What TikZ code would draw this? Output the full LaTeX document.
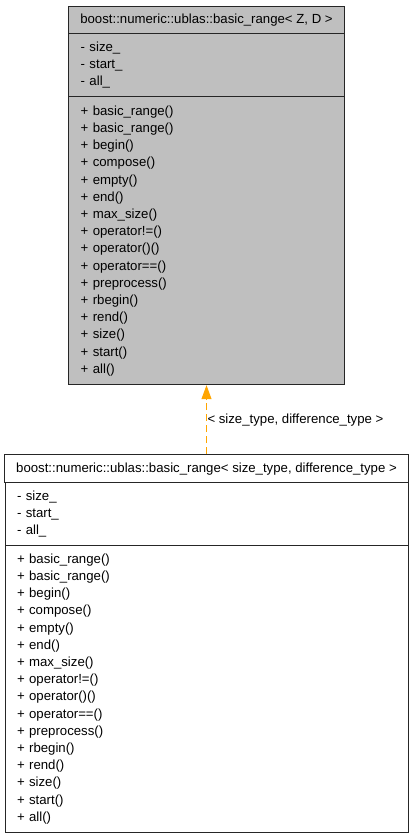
\documentclass[tikz,border=0pt]{standalone}
\usepackage{fontspec}
\setmainfont{Liberation Sans}
\usetikzlibrary{arrows.meta}
\definecolor{edgeorange}{HTML}{FFA500}
\tikzstyle{compart}=[draw=black!85, line width=1pt, inner xsep=12pt, inner ysep=0pt, font=\fontsize{13.2}{17.2}\selectfont]
\tikzstyle{compartgray}=[compart, fill=gray!50]
\tikzstyle{titlepart}=[align=center]
\tikzstyle{listpart}=[align=left]
\tikzstyle{inherit}=[draw=edgeorange, line width=1pt, dash pattern=on 7pt off 4pt, -{Triangle[length=14pt,width=10pt,fill=edgeorange]}]

\begin{document}
\begin{tikzpicture}[x=1pt, y=1pt]
	\useasboundingbox (0, 0) rectangle (413, -840);
	\begin{scope}
		% template class
		\node (topT) at (206.5, -20.1) [compartgray, titlepart, minimum width=275.6pt, minimum height=26.8pt] {boost::numeric::ublas::basic\_range< Z, D >};
		\node (topA) at (206.5, -65.25) [compartgray, listpart, text width=251.6pt, minimum height=63.5pt] {- size\_\\- start\_\\- all\_};
		\node (topM) at (206.5, -240.85) [compartgray, listpart, text width=251.6pt, minimum height=287.7pt] {+ basic\_range()\\+ basic\_range()\\+ begin()\\+ compose()\\+ empty()\\+ end()\\+ max\_size()\\+ operator!=()\\+ operator()()\\+ operator==()\\+ preprocess()\\+ rbegin()\\+ rend()\\+ size()\\+ start()\\+ all()};

		% instantiated class
		\node (botT) at (206.5, -468.7) [compart, titlepart, minimum width=403pt, minimum height=28pt] {boost::numeric::ublas::basic\_range< size\_type, difference\_type >};
		\node (botA) at (206.5, -513.85) [compart, listpart, text width=379pt, minimum height=62.3pt] {- size\_\\- start\_\\- all\_};
		\node (botM) at (206.5, -688.85) [compart, listpart, text width=379pt, minimum height=287.7pt] {+ basic\_range()\\+ basic\_range()\\+ begin()\\+ compose()\\+ empty()\\+ end()\\+ max\_size()\\+ operator!=()\\+ operator()()\\+ operator==()\\+ preprocess()\\+ rbegin()\\+ rend()\\+ size()\\+ start()\\+ all()};
	\end{scope}
	\begin{scope}
		\draw [inherit] (botT.north) -- node [pos=0.5, anchor=west, inner xsep=0.5pt, font=\fontsize{13.2}{17.2}\selectfont] {< size\_type, difference\_type >} (topM.south);
	\end{scope}
\end{tikzpicture}
\end{document}
